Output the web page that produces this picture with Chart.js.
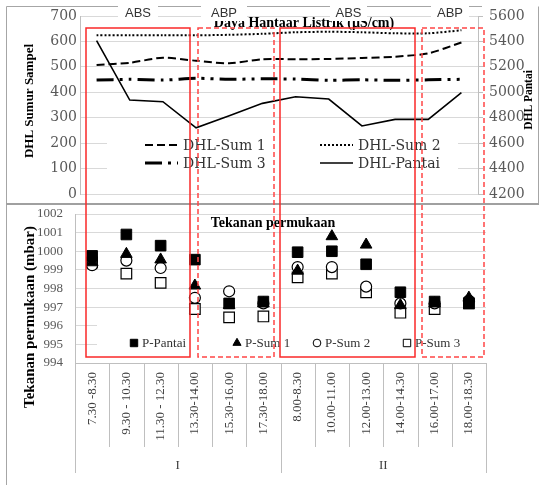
<!DOCTYPE html>
<html>
<head>
<meta charset="utf-8">
<script src="https://cdn.jsdelivr.net/npm/chart.js@4.4.1/dist/chart.umd.min.js"></script>
<style>
  body { margin: 0; background: #fff; }
  #wrap { position: relative; width: 539px; height: 485px; overflow: hidden; }
  canvas { position: absolute; left: 0; }
  #top { top: 0; }
  #bottom { top: 204px; }
  #overlay { top: 0; pointer-events: none; }
</style>
</head>
<body>
<div id="wrap">
  <canvas id="top" width="539" height="204"></canvas>
  <canvas id="bottom" width="539" height="281"></canvas>
  <canvas id="overlay" width="539" height="485"></canvas>
</div>
<script>
// categories
const timeLabels = ["7.30 -8.30", "9.30 - 10.30", "11.30 - 12.30", "13.30-14.00", "15.30-16.00", "17.30-18.00",
  "8.00-8.30", "10.00-11.00", "12.00-13.00", "14.00-14.30", "16.00-17.00", "18.00-18.30"];
const dayGroups = ["I", "II"];
const periodLabels = ["ABS", "ABP", "ABS", "ABP"];

// Daya Hantaar Listrik (uS/cm)
const dhlSum1 = [507, 516, 536, 524, 514, 530, 530, 531, 535, 540, 553, 596];
const dhlSum2 = [624, 624, 624, 624, 626, 630, 636, 638, 636, 632, 632, 644];
const dhlSum3 = [448, 451, 448, 455, 451, 453, 452, 447, 449, 447, 449, 451];
const dhlPantai = [5406, 4939, 4926, 4721, 4816, 4913, 4965, 4947, 4735, 4787, 4787, 4997];

// Tekanan permukaan (mbar)
const pPantai = [999.75, 1000.9, 1000.3, 999.55, 997.2, 997.3, 999.95, 1000.0, 999.3, 997.8, 997.3, 997.2];
const pSum1 = [999.4, 999.85, 999.55, 998.15, 997.1, 997.2, 998.95, 1000.8, 1000.35, 997.1, 997.2, 997.5];
const pSum2 = [999.25, 999.5, 999.1, 997.5, 997.85, 997.2, 999.15, 999.15, 998.1, 997.2, 997.2, 997.35];
const pSum3 = [999.4, 998.8, 998.3, 996.9, 996.45, 996.5, 998.6, 998.8, 997.8, 996.7, 996.9, 997.2];

const serif = "'Liberation Serif', serif";
const wideSerif = "'DejaVu Serif', serif";
const plain = (v) => String(v);

const legendTop = {
  id: "legendTop",
  beforeDatasetsDraw(chart) {
    const ctx = chart.ctx;
    ctx.save();
    ctx.fillStyle = "#fff";
    ctx.fillRect(107, 130, 351, 54);
    const cols = [145, 320];
    const rows = [145, 163];
    chart.data.datasets.forEach((ds, k) => {
      const x = cols[k % 2];
      const y = rows[Math.floor(k / 2)];
      ctx.strokeStyle = ds.borderColor;
      ctx.lineWidth = ds.borderWidth;
      ctx.setLineDash(ds.borderDash || []);
      ctx.beginPath();
      ctx.moveTo(x, y);
      ctx.lineTo(x + 33, y);
      ctx.stroke();
      ctx.setLineDash([]);
      ctx.fillStyle = "#333";
      ctx.font = "14px " + wideSerif;
      ctx.textBaseline = "middle";
      ctx.fillText(ds.label, x + 38, y + 1);
    });
    ctx.restore();
  },
};

const legendBottom = {
  id: "legendBottom",
  beforeDatasetsDraw(chart) {
    const ctx = chart.ctx;
    const area = chart.chartArea;
    ctx.save();
    ctx.fillStyle = "#fff";
    ctx.fillRect(97, 120, area.right - 97, area.bottom - 121);
    const xs = [134, 237, 317, 407];
    const y = 139;
    chart.data.datasets.forEach((ds, i) => {
      ctx.fillStyle = ds.backgroundColor;
      ctx.strokeStyle = ds.borderColor;
      ctx.lineWidth = 1;
      Chart.helpers.drawPoint(ctx, { pointStyle: ds.pointStyle, radius: ds.pointRadius * 0.7, borderWidth: 1 }, xs[i], y);
      ctx.fillStyle = "#333";
      ctx.font = "13px " + serif;
      ctx.textBaseline = "middle";
      ctx.fillText(ds.label, xs[i] + 8, y + 1);
    });
    ctx.restore();
  },
};

const categoryAxis = {
  id: "categoryAxis",
  afterDraw(chart) {
    const ctx = chart.ctx;
    const xs = chart.scales.x;
    const n = timeLabels.length;
    const w = (xs.right - xs.left) / n;
    const per = n / dayGroups.length;
    ctx.save();
    ctx.strokeStyle = "#bfbfbf";
    ctx.lineWidth = 1;
    for (let i = 0; i <= n; i++) {
      const x = Math.round(xs.left + i * w) + 0.5;
      ctx.beginPath();
      ctx.moveTo(x, xs.top);
      ctx.lineTo(x, xs.top + (i % per === 0 ? 110 : 84));
      ctx.stroke();
    }
    ctx.fillStyle = "#404040";
    ctx.font = "13px " + serif;
    ctx.textAlign = "center";
    ctx.textBaseline = "middle";
    dayGroups.forEach((g, j) => {
      ctx.fillText(g, xs.left + (j + 0.5) * per * w, xs.top + 103);
    });
    ctx.restore();
  },
};

new Chart(document.getElementById("top"), {
  type: "line",
  data: {
    labels: timeLabels,
    datasets: [
      { label: "DHL-Sum 1", data: dhlSum1, yAxisID: "y", borderColor: "#000", borderWidth: 2, borderDash: [8, 4], pointRadius: 0, tension: 0.25 },
      { label: "DHL-Sum 2", data: dhlSum2, yAxisID: "y", borderColor: "#000", borderWidth: 2, borderDash: [2, 2], pointRadius: 0, tension: 0.25 },
      { label: "DHL-Sum 3", data: dhlSum3, yAxisID: "y", borderColor: "#000", borderWidth: 3, borderDash: [17, 6, 3, 6, 3, 6], pointRadius: 0, tension: 0.25 },
      { label: "DHL-Pantai", data: dhlPantai, yAxisID: "y1", borderColor: "#000", borderWidth: 1.6, pointRadius: 0 },
    ],
  },
  options: {
    responsive: false,
    animation: false,
    events: [],
    layout: { padding: { top: 16, bottom: 10, left: 0, right: 0 } },
    plugins: { legend: { display: false }, tooltip: { enabled: false } },
    scales: {
      x: { display: false, offset: true },
      y: {
        min: 0, max: 700,
        ticks: { stepSize: 100, autoSkip: false, padding: 3, color: "#595959", font: { family: wideSerif, size: 14 }, callback: plain },
        grid: { color: "#d9d9d9", drawTicks: false },
        border: { color: "#bfbfbf" },
        afterFit: (s) => { s.width = 80; s.paddingTop = 0; s.paddingBottom = 0; },
      },
      y1: {
        position: "right",
        min: 4200, max: 5600,
        ticks: { stepSize: 200, autoSkip: false, padding: 6, color: "#595959", font: { family: wideSerif, size: 14 }, callback: plain },
        grid: { drawOnChartArea: false, tickLength: 5, color: "#bfbfbf" },
        border: { color: "#bfbfbf" },
        afterFit: (s) => { s.width = 61; s.paddingTop = 0; s.paddingBottom = 0; },
      },
    },
  },
  plugins: [legendTop],
});

new Chart(document.getElementById("bottom"), {
  type: "line",
  data: {
    labels: timeLabels,
    datasets: [
      { label: "P-Pantai", data: pPantai, showLine: false, pointStyle: "rect", pointRadius: 7.5, backgroundColor: "#000", borderColor: "#000", borderWidth: 1 },
      { label: "P-Sum 1", data: pSum1, showLine: false, pointStyle: "triangle", pointRadius: 6.7, backgroundColor: "#000", borderColor: "#000", borderWidth: 1 },
      { label: "P-Sum 2", data: pSum2, showLine: false, pointStyle: "circle", pointRadius: 5.5, backgroundColor: "#fff", borderColor: "#000", borderWidth: 1.2 },
      { label: "P-Sum 3", data: pSum3, showLine: false, pointStyle: "rect", pointRadius: 7.5, backgroundColor: "#fff", borderColor: "#000", borderWidth: 1.2 },
    ],
  },
  options: {
    responsive: false,
    animation: false,
    events: [],
    layout: { padding: { top: 10, bottom: 0, left: 0, right: 53 } },
    plugins: { legend: { display: false }, tooltip: { enabled: false } },
    scales: {
      x: {
        offset: true,
        grid: { display: false, drawTicks: false },
        border: { color: "#bfbfbf" },
        ticks: { autoSkip: false, minRotation: 90, maxRotation: 90, padding: 9, color: "#404040", font: { family: serif, size: 13 } },
        afterFit: (s) => { s.height = 122; },
      },
      y: {
        min: 994, max: 1002,
        ticks: { stepSize: 1, autoSkip: false, padding: 12, color: "#595959", font: { family: serif, size: 13 }, callback: plain },
        grid: { color: "#d9d9d9", drawTicks: false },
        border: { color: "#bfbfbf" },
        afterFit: (s) => { s.width = 75; s.paddingTop = 0; s.paddingBottom = 0; },
      },
    },
  },
  plugins: [legendBottom, categoryAxis],
});

// overlay: frame, titles, period boxes
const oc = document.getElementById("overlay").getContext("2d");
oc.strokeStyle = "#a6a6a6";
oc.lineWidth = 1;
oc.beginPath();
oc.moveTo(6.5, 485); oc.lineTo(6.5, 6.5); oc.lineTo(482, 6.5);
oc.moveTo(538.5, 6.5); oc.lineTo(538.5, 204);
oc.stroke();
oc.lineWidth = 2;
oc.strokeStyle = "#a0a0a0";
oc.beginPath();
oc.moveTo(6, 204); oc.lineTo(539, 204);
oc.stroke();

oc.fillStyle = "#000";
oc.font = "bold 14px " + serif;
oc.textAlign = "center";
oc.textBaseline = "alphabetic";
oc.fillText("Daya Hantaar Listrik (\u00b5S/cm)", 304, 27);
oc.fillText("Tekanan permukaan", 273, 227);

function vtext(t, x, y, font) {
  oc.save();
  oc.translate(x, y);
  oc.rotate(-Math.PI / 2);
  oc.font = font;
  oc.textAlign = "center";
  oc.textBaseline = "middle";
  oc.fillStyle = "#000";
  oc.fillText(t, 0, 0);
  oc.restore();
}
vtext("DHL Sumur Sampel", 30, 101, "bold 13px " + serif);
vtext("DHL Pantai", 529, 100, "bold 11.5px " + serif);
vtext("Tekanan permukaan (mbar)", 30, 317, "bold 15px " + serif);

const boxes = [[118, 158], [201, 247], [330, 367], [431, 469]];
oc.font = "13px 'Liberation Sans', sans-serif";
boxes.forEach((b, i) => {
  oc.fillStyle = "#fff";
  oc.fillRect(b[0], 0, b[1] - b[0], 21);
  oc.fillStyle = "#333";
  oc.textBaseline = "middle";
  oc.fillText(periodLabels[i], (b[0] + b[1]) / 2, 13);
});

const rects = [[86, 190, false], [198, 274, true], [280, 415, false], [422, 484, true]];
oc.lineWidth = 1.5;
rects.forEach((r) => {
  oc.strokeStyle = r[2] ? "rgb(255,70,70)" : "rgb(250,40,40)";
  oc.setLineDash(r[2] ? [5, 3] : []);
  oc.strokeRect(r[0], 28, r[1] - r[0], 329);
});
oc.setLineDash([]);
</script>
</body>
</html>
